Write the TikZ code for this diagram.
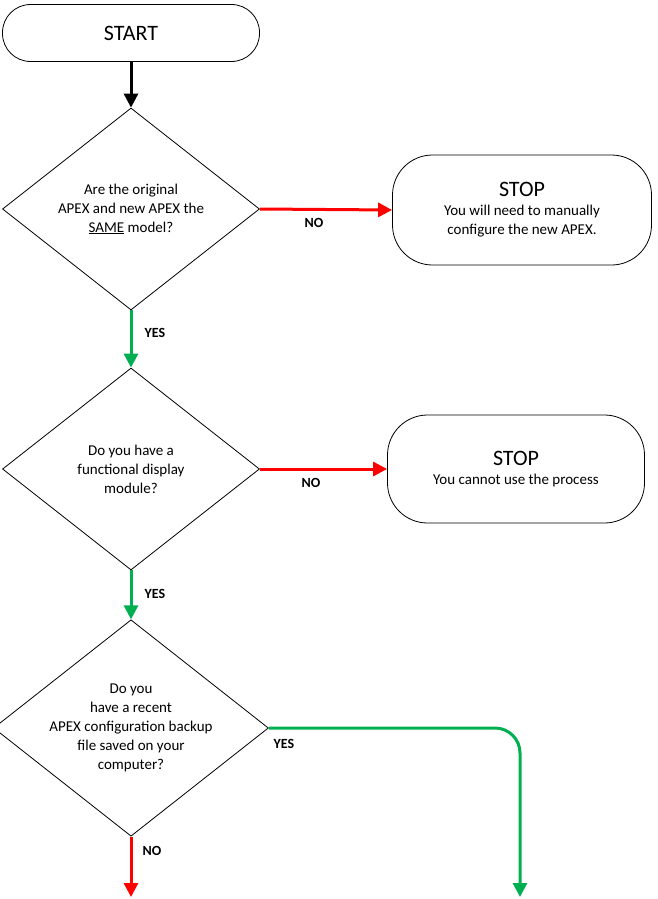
\documentclass[tikz,border=0pt]{standalone}
\usepackage{fontspec}
\setmainfont{Carlito}
\usetikzlibrary{shapes.geometric,arrows.meta}
\definecolor{gr}{RGB}{0,176,80}
\definecolor{rd}{RGB}{255,0,0}
\begin{document}
\begin{tikzpicture}[x=1pt,y=-1pt,
  term/.style={draw,rounded corners=28pt,thick,align=center},
  dec/.style={draw,diamond,aspect=1.27,thick,align=center,inner sep=0pt,minimum width=257pt,minimum height=202pt,font=\fontsize{15}{19}\selectfont},
  arr/.style={line width=3pt,-{Triangle[length=14pt,width=14pt]}},
  lab/.style={font=\bfseries\fontsize{14}{16}\selectfont}]
\useasboundingbox (0,0) rectangle (657,899);
\node[term,minimum width=257pt,minimum height=57pt,font=\fontsize{22}{26}\selectfont] (start) at (131,33) {START};
\node[dec] (d1) at (131,209) {Are the original\\APEX and new APEX the\\\underline{SAME} model?};
\node[dec] (d2) at (131,469) {Do you have a\\functional display\\module?};
\node[dec] (d3) at (131,728) {Do you\\have a recent\\APEX configuration backup\\file saved on your\\computer?};
\node[term,rounded corners=40pt,minimum width=259pt,minimum height=110pt,font=\fontsize{15}{19}\selectfont] (s1) at (522,210) {{\fontsize{22}{26}\selectfont STOP}\\You will need to manually\\configure the new APEX.};
\node[term,rounded corners=40pt,minimum width=257pt,minimum height=108pt,font=\fontsize{15}{19}\selectfont] (s2) at (516,469) {{\fontsize{22}{26}\selectfont STOP}\\You cannot use the process};
\coordinate (e1) at (131,897);
\coordinate (e2) at (520,897);
\draw[arr,black] (start) -- (d1);
\draw[arr,rd] (d1.east) -- (s1.west);
\draw[arr,gr] (d1.south) -- (d2.north);
\draw[arr,rd] (d2.east) -- (s2.west);
\draw[arr,gr] (d2.south) -- (d3.north);
\draw[arr,rd] (d3.south) -- (e1);
\draw[arr,gr,rounded corners=25pt] (d3.east) -- (520,728) -- (e2);
\node[lab] at (314,223) {NO};
\node[lab] at (311,483) {NO};
\node[lab] at (155,333) {YES};
\node[lab] at (155,594) {YES};
\node[lab] at (284,744) {YES};
\node[lab] at (152,851) {NO};
\end{tikzpicture}
\end{document}
